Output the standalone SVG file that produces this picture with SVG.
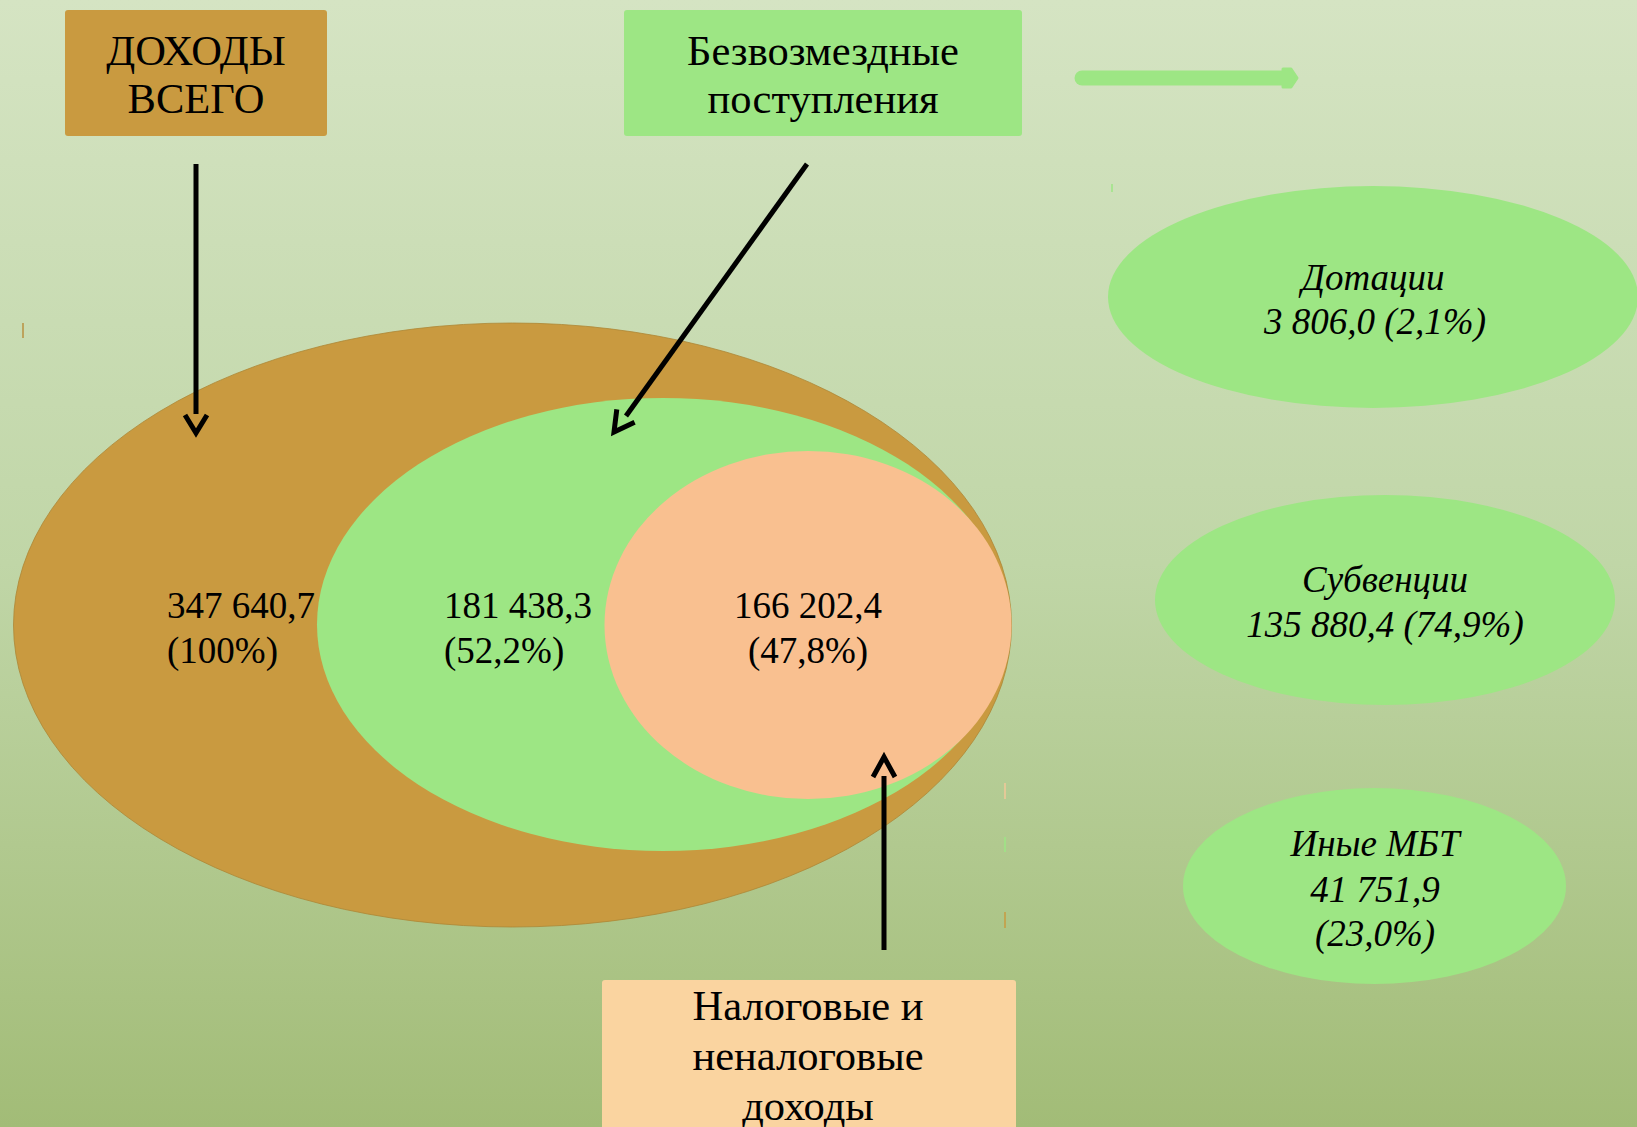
<svg xmlns="http://www.w3.org/2000/svg" width="1637" height="1127" viewBox="0 0 1637 1127">
<defs>
<linearGradient id="bg" x1="0" y1="0" x2="0" y2="1">
<stop offset="0" stop-color="#d5e4c3"/>
<stop offset="0.5" stop-color="#c0d6a7"/>
<stop offset="1" stop-color="#a2bc77"/>
</linearGradient>
<style>
.t{font-family:"Liberation Serif","Times New Roman",serif;fill:#000;text-anchor:middle}
.h{font-size:42.5px}
.n{font-size:37px}
.i{font-size:37px;font-style:italic}
.arr{stroke:#000;stroke-width:5;fill:none}
.tick{stroke-width:1.5}
</style>
</defs>
<rect width="1637" height="1127" fill="url(#bg)"/>

<g id="ticks">
<line class="tick" x1="23" y1="323" x2="23" y2="338" stroke="#b8913f"/>
<line class="tick" x1="325" y1="398" x2="325" y2="413" stroke="#9de684"/>
<line class="tick" x1="613" y1="450" x2="613" y2="464" stroke="#f6c08f"/>
<line class="tick" x1="1005" y1="783" x2="1005" y2="799" stroke="#f3c898"/>
<line class="tick" x1="1005" y1="837" x2="1005" y2="852" stroke="#9de684"/>
<line class="tick" x1="1005" y1="912" x2="1005" y2="928" stroke="#c99a40"/>
<line class="tick" x1="1112" y1="184" x2="1112" y2="192" stroke="#9de684"/>
</g>

<g id="node-total-ellipse">
<ellipse cx="512.5" cy="625" rx="499" ry="302" fill="#c99a40" stroke="#ad8735" stroke-width="0.8"/>
<text class="t n" x="167" y="618" style="text-anchor:start">347 640,7</text>
<text class="t n" x="167" y="663" style="text-anchor:start">(100%)</text>
</g>

<g id="node-free-ellipse">
<ellipse cx="663" cy="624.5" rx="346" ry="226.5" fill="#9de684"/>
<text class="t n" x="444" y="618" style="text-anchor:start">181 438,3</text>
<text class="t n" x="444" y="663" style="text-anchor:start">(52,2%)</text>
</g>

<g id="node-tax-ellipse">
<ellipse cx="808" cy="625" rx="203.5" ry="174" fill="#f9c090"/>
<text class="t n" x="808" y="618">166 202,4</text>
<text class="t n" x="808" y="663">(47,8%)</text>
</g>

<g id="node-total-label">
<rect x="65" y="10" width="262" height="126" rx="3" fill="#c99a40"/>
<text class="t h" x="196" y="65">ДОХОДЫ</text>
<text class="t h" x="196" y="113">ВСЕГО</text>
</g>

<g id="node-free-label">
<rect x="624" y="10" width="398" height="126" rx="3" fill="#9de684"/>
<text class="t h" x="823" y="65">Безвозмездные</text>
<text class="t h" x="823" y="113">поступления</text>
</g>

<g id="node-tax-label">
<rect x="602" y="980" width="414" height="150" rx="3" fill="#fad4a0"/>
<text class="t h" x="808" y="1020">Налоговые и</text>
<text class="t h" x="808" y="1070">неналоговые</text>
<text class="t h" x="808" y="1120">доходы</text>
</g>

<g id="node-dotacii">
<ellipse cx="1373" cy="297" rx="265" ry="111" fill="#9de684"/>
<text class="t i" x="1373" y="290">Дотации</text>
<text class="t i" x="1375" y="334">3 806,0 (2,1%)</text>
</g>

<g id="node-subvencii">
<ellipse cx="1385" cy="600" rx="230" ry="105" fill="#9de684"/>
<text class="t i" x="1385" y="592">Субвенции</text>
<text class="t i" x="1385" y="637">135 880,4 (74,9%)</text>
</g>

<g id="node-inye">
<ellipse cx="1374.5" cy="886" rx="191.5" ry="98" fill="#9de684"/>
<text class="t i" x="1375" y="856">Иные МБТ</text>
<text class="t i" x="1375" y="902">41 751,9</text>
<text class="t i" x="1375" y="946">(23,0%)</text>
</g>

<g id="connectors">
<line class="arr" x1="196" y1="164" x2="196" y2="414"/>
<polyline class="arr" points="185,415 196,433 207,415"/>
<line class="arr" x1="807" y1="164" x2="626" y2="416"/>
<polyline class="arr" points="634.6,422.2 614,432 616.8,409.4"/>
<line class="arr" x1="884" y1="950" x2="884" y2="776"/>
<polyline class="arr" points="873,777 884,757 895,777"/>
<g id="green-arrow" fill="#9de684" stroke="#9de684">
<line x1="1082" y1="78" x2="1286" y2="78" stroke-width="15" stroke-linecap="round"/>
<polygon points="1283,69 1291,69 1297,78 1291,87 1283,87" stroke-width="3" stroke-linejoin="round"/>
</g>
</g>
</svg>
